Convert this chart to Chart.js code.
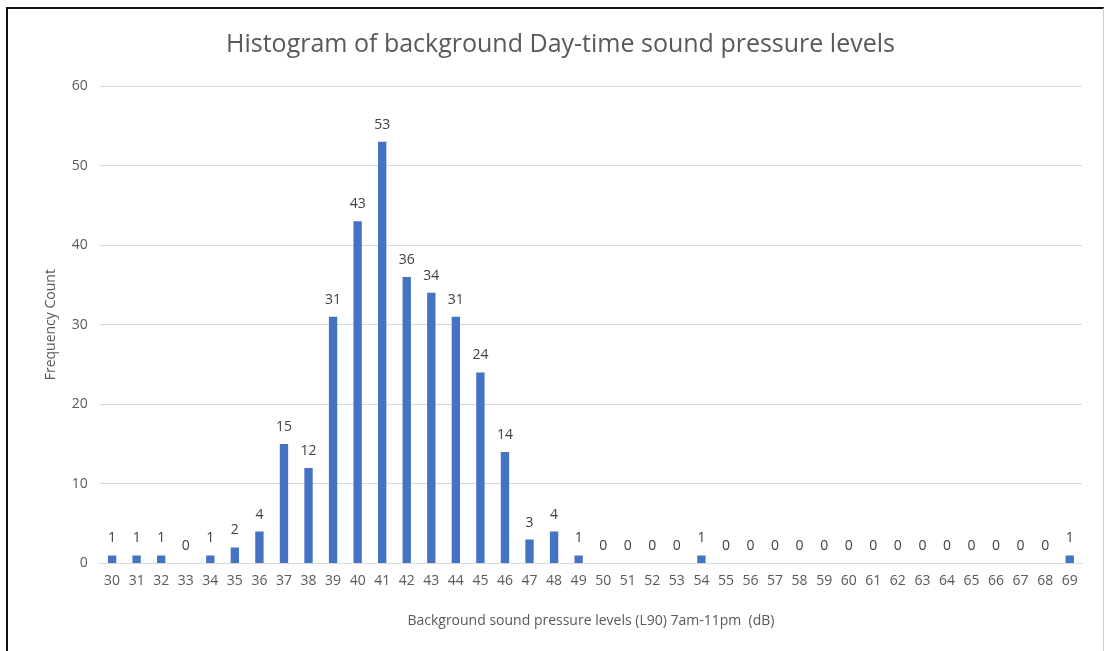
<!DOCTYPE html>
<html>
<head>
<meta charset="utf-8">
<script src="https://cdn.jsdelivr.net/npm/chart.js@4/dist/chart.umd.min.js"></script>
<style>
  html, body { margin: 0; padding: 0; background: #fff; overflow: hidden; }
  #wrap { position: absolute; left: 6px; top: 7px; width: 1098px; height: 660px; border-top: 2px solid #111; border-left: 2px solid #111; border-right: 1px solid #ccc; box-sizing: border-box; }
  #cv { position: absolute; left: 0; top: 0; }
</style>
</head>
<body>
<div id="wrap"></div>
<canvas id="cv" width="1104" height="651"></canvas>
<script>
// categories (dB) and counts
var levels = ['30','31','32','33','34','35','36','37','38','39','40','41','42','43','44','45','46','47','48','49',
              '50','51','52','53','54','55','56','57','58','59','60','61','62','63','64','65','66','67','68','69'];
var counts = [1,1,1,0,1,2,4,15,12,31,43,53,36,34,31,24,14,3,4,1,
              0,0,0,0,1,0,0,0,0,0,0,0,0,0,0,0,0,0,0,1];
var yTicks = [0,10,20,30,40,50,60];

var fontFam = "'Open Sans', 'Liberation Sans', sans-serif";

// value labels above each bar
var valueLabels = {
  id: 'valueLabels',
  afterDatasetsDraw: function (chart) {
    var ctx = chart.ctx;
    var meta = chart.getDatasetMeta(0);
    ctx.save();
    ctx.fillStyle = '#404040';
    ctx.font = '14px ' + fontFam;
    ctx.textAlign = 'center';
    ctx.textBaseline = 'bottom';
    meta.data.forEach(function (bar, i) {
      ctx.fillText(String(counts[i]), bar.x, bar.y - 10);
    });
    ctx.restore();
  }
};

var chart = new Chart(document.getElementById('cv'), {
  type: 'bar',
  data: {
    labels: levels,
    datasets: [{
      data: counts,
      backgroundColor: '#4472c4',
      barPercentage: 0.34,
      categoryPercentage: 1.0
    }]
  },
  options: {
    responsive: false,
    animation: false,
    layout: { padding: { left: 39, right: 22, top: 20, bottom: 18 } },
    plugins: {
      legend: { display: false },
      tooltip: { enabled: false },
      title: {
        display: true,
        text: 'Histogram of background Day-time sound pressure levels',
        color: '#595959',
        font: { family: fontFam, size: 25, weight: 'normal' },
        padding: { top: 10, bottom: 26 }
      }
    },
    scales: {
      x: {
        grid: { display: false, drawTicks: false },
        border: { color: '#d9d9d9', width: 1 },
        ticks: { color: '#595959', font: { family: fontFam, size: 14 }, maxRotation: 0, autoSkip: false, padding: 9 },
        title: { display: true, text: 'Background sound pressure levels (L90) 7am-11pm  (dB)', color: '#595959', font: { family: fontFam, size: 14 }, padding: { top: 14 } }
      },
      y: {
        min: 0, max: 60,
        afterBuildTicks: function (axis) { axis.ticks = yTicks.map(function (v) { return { value: v }; }); },
        grid: { color: '#d9d9d9', drawTicks: false },
        border: { display: false },
        ticks: { color: '#595959', font: { family: fontFam, size: 14 }, padding: 12 },
        title: { display: true, text: 'Frequency Count', color: '#595959', font: { family: fontFam, size: 14 }, padding: { bottom: 0 } }
      }
    }
  },
  plugins: [valueLabels]
});
</script>
</body>
</html>
